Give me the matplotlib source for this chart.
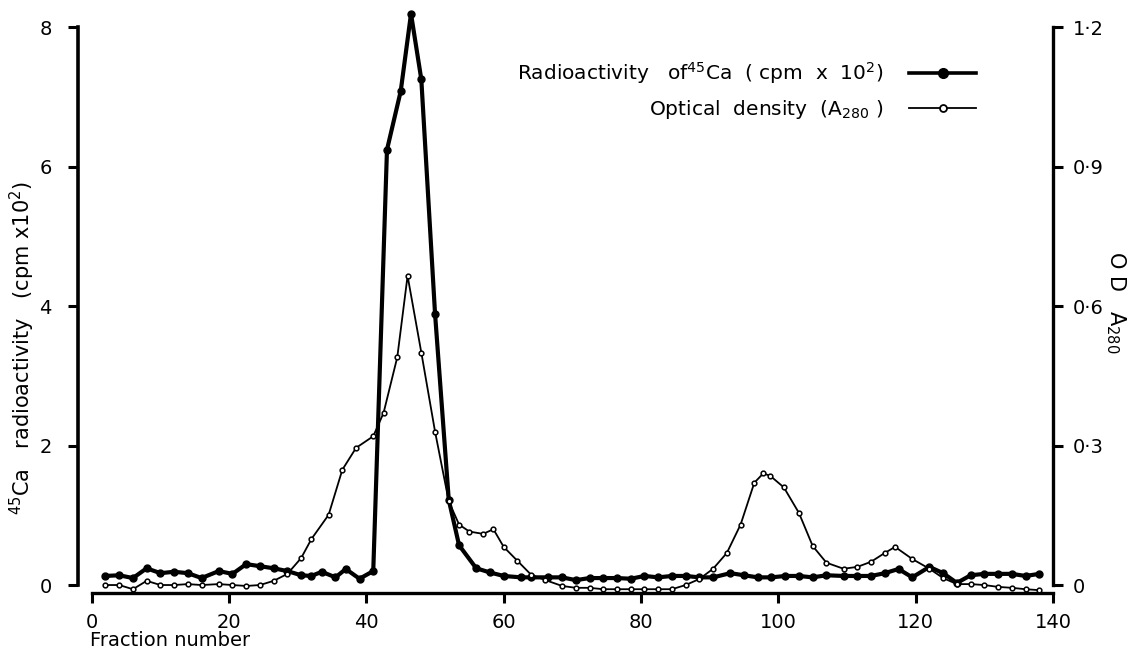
import matplotlib
matplotlib.use('Agg')
import matplotlib.pyplot as plt
from matplotlib.lines import Line2D

# 45Ca radioactivity (cpm x 10^2) per fraction
fr_ca = [2, 4, 6, 8, 10, 12, 14, 16, 18.5, 20.5, 22.5, 24.5, 26.5, 28.5, 30.5,
         32, 33.5, 35.5, 37, 39, 41,
         43, 45, 46.5, 48, 50, 52, 53.5, 56,
         58, 60, 62.5, 64, 66.5, 68.5, 70.5, 72.5, 74.5, 76.5, 78.5, 80.5, 82.5,
         84.5, 86.5, 88.5, 90.5, 93, 95, 97, 99,
         101, 103, 105, 107, 109.5, 111.5, 113.5, 115.5, 117.5, 119.5, 122, 124,
         126, 128, 130, 132, 134, 136, 138]
ca = [0.13, 0.14, 0.10, 0.24, 0.17, 0.19, 0.17, 0.10, 0.20, 0.16, 0.30, 0.27, 0.24, 0.20, 0.14,
      0.13, 0.19, 0.11, 0.23, 0.09, 0.20,
      6.24, 7.08, 8.19, 7.25, 3.89, 1.22, 0.57, 0.24,
      0.18, 0.13, 0.11, 0.11, 0.11, 0.11, 0.07, 0.10, 0.10, 0.10, 0.09, 0.13, 0.11,
      0.13, 0.13, 0.11, 0.11, 0.17, 0.14, 0.11, 0.11,
      0.13, 0.13, 0.11, 0.14, 0.13, 0.13, 0.13, 0.17, 0.23, 0.11, 0.26, 0.17,
      0.03, 0.14, 0.16, 0.16, 0.16, 0.13, 0.16]

# optical density A280 per fraction
fr_od = [2, 4, 6, 8, 10, 12, 14, 16, 18.5, 20.5, 22.5, 24.5, 26.5, 28.5, 30.5,
         32, 34.5, 36.5, 38.5, 41, 42.5, 44.5, 46, 48, 50, 52,
         53.5, 55, 57, 58.5, 60, 62, 64, 66, 68.5, 70.5, 72.5, 74.5, 76.5, 78.5,
         80.5, 82.5, 84.5, 86.5, 88.5, 90.5, 92.5, 94.5, 96.5, 97.8, 98.8, 100.8,
         103, 105, 107, 109.5, 111.5, 113.5, 115.5, 117, 119.5, 122, 124, 126, 128,
         130, 132, 134, 136, 138]
od = [0.0, 0.0, -0.009, 0.009, 0.0, 0.0, 0.002, 0.0, 0.002, 0.0, -0.002, 0.0, 0.009, 0.024, 0.058,
      0.099, 0.151, 0.248, 0.295, 0.32, 0.37, 0.49, 0.665, 0.50, 0.33, 0.18,
      0.13, 0.115, 0.11, 0.12, 0.082, 0.052, 0.022, 0.011, -0.002, -0.006, -0.006, -0.009, -0.009, -0.009,
      -0.009, -0.009, -0.009, 0.0, 0.013, 0.035, 0.069, 0.13, 0.22, 0.24, 0.235, 0.21,
      0.155, 0.084, 0.048, 0.035, 0.039, 0.05, 0.069, 0.082, 0.056, 0.035, 0.015, 0.002, 0.002,
      0.0, -0.004, -0.006, -0.009, -0.011]

x_ticks = [0, 20, 40, 60, 80, 100, 120, 140]
ca_ticks = [0, 2, 4, 6, 8]
od_ticks = [0, 0.3, 0.6, 0.9, 1.2]
od_labels = ['0', '0·3', '0·6', '0·9', '1·2']

plt.rcParams['font.family'] = ['DejaVu Sans']
plt.rcParams['mathtext.fontset'] = 'dejavusans'

W, H = 1127, 653
fig = plt.figure(figsize=(W / 100, H / 100), dpi=100)
# axes box in pixels: x 78..1053, y 9.6..593.4
ax = fig.add_axes([78 / W, (H - 593.4) / H, 975 / W, 583.8 / H])
ax.set_xlim(-2, 140)
ax.set_ylim(-0.12, 8.25)

ax.plot(fr_ca, ca, color='black', lw=3, marker='o', ms=5, mfc='black', mec='black',
        solid_joinstyle='round', clip_on=False, zorder=3)

ax2 = ax.twinx()
ax2.set_ylim(-0.12 * 0.15, 8.25 * 0.15)
ax2.plot(fr_od, od, color='black', lw=1.3, marker='o', ms=3.4, mfc='white', mec='black',
         mew=1.1, clip_on=False, zorder=2)

for a in (ax, ax2):
    a.spines['top'].set_visible(False)
    a.patch.set_visible(False)
ax.spines['right'].set_visible(False)
ax2.spines['left'].set_visible(False)
ax2.spines['bottom'].set_visible(False)

ax.spines['left'].set_bounds(0, 8)
ax.spines['left'].set_linewidth(2.6)
ax.spines['bottom'].set_bounds(0, 140)
ax.spines['bottom'].set_linewidth(2.4)
ax2.spines['right'].set_bounds(0, 1.2)
ax2.spines['right'].set_linewidth(2.4)

ax.set_xticks(x_ticks)
ax.set_yticks(ca_ticks)
ax2.set_yticks(od_ticks)
ax2.set_yticklabels(od_labels)
ax.tick_params(axis='both', labelsize=14, width=2.2, length=7, direction='out', pad=7)
ax.tick_params(axis='y', pad=12)
ax2.tick_params(axis='y', labelsize=14, width=2.2, length=7, direction='out', pad=7)

ax.set_ylabel(r'$^{45}$Ca   radioactivity   (cpm x10$^2$)', fontsize=15)
ax.yaxis.set_label_coords(-0.042, 0.42)

fig.text(1116 / W, 1 - 302 / H, r'O D   A$_{280}$', fontsize=15, rotation=-90,
         ha='center', va='center')
fig.text(90 / W, 1 - 640 / H, 'Fraction number', fontsize=14, ha='left', va='center')

h1 = Line2D([], [], color='black', lw=2.6, marker='o', ms=7, mfc='black', mec='black')
h2 = Line2D([], [], color='black', lw=1.3, marker='o', ms=5, mfc='white', mec='black', mew=1.3)
fig.legend([h1, h2],
           [r'Radioactivity   of$^{45}$Ca  ( cpm  x  10$^2$)', r'Optical  density  (A$_{280}$ )'],
           loc='upper left', bbox_to_anchor=(517 / W, 1 - 60 / H), frameon=False,
           markerfirst=False, fontsize=14.5, handlelength=3.3, handletextpad=1.3,
           labelspacing=0.6, borderpad=0, borderaxespad=0)

fig.savefig('out.png', dpi=100)
